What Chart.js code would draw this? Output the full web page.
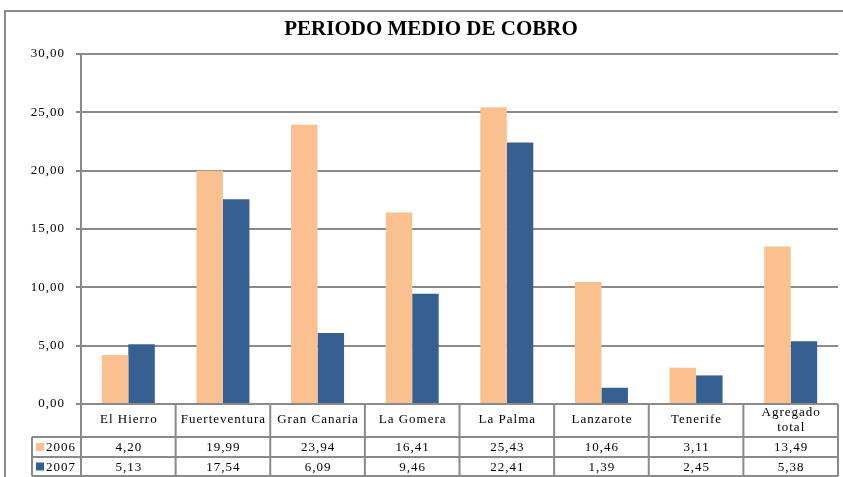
<!DOCTYPE html>
<html>
<head>
<meta charset="utf-8">
<script src="https://cdn.jsdelivr.net/npm/chart.js@4.4.1/dist/chart.umd.min.js"></script>
<style>
html,body{margin:0;padding:0;background:#fff;}
canvas{display:block;}
</style>
</head>
<body>
<canvas id="c" width="843" height="477"></canvas>
<script>
const title = "PERIODO MEDIO DE COBRO";
const categories = ["El Hierro","Fuerteventura","Gran Canaria","La Gomera","La Palma","Lanzarote","Tenerife",["Agregado","total"]];
const seriesNames = ["2006","2007"];
const values2006 = [4.20,19.99,23.94,16.41,25.43,10.46,3.11,13.49];
const values2007 = [5.13,17.54,6.09,9.46,22.41,1.39,2.45,5.38];
const yTicks = [0,5,10,15,20,25,30];

const colors = ["#FAC090","#376092"];
const gridColor = "#8a8a8a";
const serif = "'Liberation Serif','Times New Roman',serif";
const fmt = v => v.toFixed(2).replace('.', ',');

const framePlugin = {
  id: 'frame',
  beforeDraw(chart) {
    chart.ctx.letterSpacing = "1px";
  },
  afterDraw(chart) {
    const ctx = chart.ctx;
    const area = chart.chartArea;
    const xs = chart.scales.x;
    const n = categories.length;
    const w = (area.right - area.left) / n;
    ctx.save();
    ctx.letterSpacing = "0px";
    // outer frame
    ctx.strokeStyle = gridColor;
    ctx.lineWidth = 2;
    ctx.beginPath();
    ctx.moveTo(5, 477); ctx.lineTo(5, 11); ctx.lineTo(843, 11);
    ctx.stroke();
    // title
    ctx.fillStyle = "#000";
    ctx.font = "bold 21px " + serif;
    ctx.textAlign = "center";
    ctx.textBaseline = "middle";
    ctx.fillText(title, 431, 30);
    // table
    const yTop = area.bottom, yR1 = 437, yR2 = 457, yBot = 476, xLeg = 32;
    ctx.strokeStyle = gridColor;
    ctx.lineWidth = 2;
    ctx.beginPath();
    [yR1, yR2, yBot].forEach(y => { ctx.moveTo(xLeg, y); ctx.lineTo(area.right, y); });
    for (let i = 0; i <= n; i++) {
      const x = area.left + i * w;
      ctx.moveTo(x, yTop); ctx.lineTo(x, yBot);
    }
    ctx.moveTo(xLeg, yR1); ctx.lineTo(xLeg, yBot);
    ctx.stroke();
    ctx.letterSpacing = "1px";
    ctx.fillStyle = "#000";
    ctx.font = "13px " + serif;
    ctx.textAlign = "center";
    ctx.textBaseline = "middle";
    const rows = [values2006, values2007];
    for (let i = 0; i < n; i++) {
      const cx = xs.getPixelForValue(i) + 0.5;
      const lab = categories[i];
      if (Array.isArray(lab)) {
        ctx.fillText(lab[0], cx, 413);
        ctx.fillText(lab[1], cx, 428);
      } else {
        ctx.fillText(lab, cx, 420);
      }
      ctx.fillText(fmt(rows[0][i]), cx, (yR1 + yR2) / 2 + 1);
      ctx.fillText(fmt(rows[1][i]), cx, (yR2 + yBot) / 2 + 1);
    }
    // legend keys
    ctx.textAlign = "left";
    [[yR1, yR2], [yR2, yBot]].forEach((r, k) => {
      const cy = (r[0] + r[1]) / 2;
      ctx.fillStyle = colors[k];
      ctx.fillRect(36, cy - 4, 8, 8);
      ctx.fillStyle = "#000";
      ctx.fillText(seriesNames[k], 46, cy + 1);
    });
    ctx.restore();
    ctx.letterSpacing = "0px";
  }
};

new Chart(document.getElementById('c'), {
  type: 'bar',
  data: {
    labels: categories,
    datasets: [
      { label: seriesNames[0], data: values2006, backgroundColor: colors[0], borderWidth: 0 },
      { label: seriesNames[1], data: values2007, backgroundColor: colors[1], borderWidth: 0 }
    ]
  },
  options: {
    responsive: false,
    animation: false,
    layout: { padding: { left: 0, top: 54, right: 5, bottom: 73 } },
    datasets: { bar: { categoryPercentage: 0.56, barPercentage: 1.0 } },
    plugins: { legend: { display: false }, tooltip: { enabled: false }, title: { display: false } },
    scales: {
      x: { display: false },
      y: {
        min: 0, max: 30,
        afterFit(scale) { scale.width = 81; },
        afterBuildTicks(scale) { scale.ticks = yTicks.map(v => ({ value: v })); },
        ticks: { callback: v => fmt(v), color: "#000", font: { family: serif, size: 13 }, padding: 11 },
        grid: { color: gridColor, lineWidth: 2, tickLength: 5, drawTicks: true },
        border: { display: true, color: gridColor, width: 2 }
      }
    }
  },
  plugins: [framePlugin]
});
</script>
</body>
</html>
